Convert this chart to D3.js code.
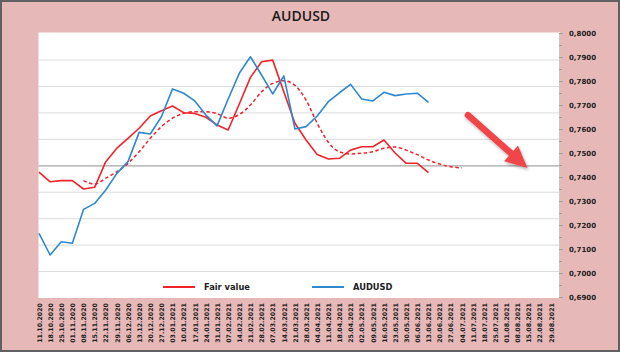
<!DOCTYPE html>
<html>
<head>
<meta charset="utf-8">
<script src="https://cdn.jsdelivr.net/npm/d3@7"></script>
<style>
  html, body { margin: 0; padding: 0; background: #e6b8b7; }
  svg { display: block; }
</style>
</head>
<body>
<div id="chart"></div>
<script>
// weekly categories
const dates = [
  "11.10.2020","18.10.2020","25.10.2020","01.11.2020","08.11.2020","15.11.2020","22.11.2020","29.11.2020",
  "06.12.2020","13.12.2020","20.12.2020","27.12.2020","03.01.2021","10.01.2021","17.01.2021","24.01.2021",
  "31.01.2021","07.02.2021","14.02.2021","21.02.2021","28.02.2021","07.03.2021","14.03.2021","21.03.2021",
  "28.03.2021","04.04.2021","11.04.2021","18.04.2021","25.04.2021","02.05.2021","09.05.2021","16.05.2021",
  "23.05.2021","30.05.2021","06.06.2021","13.06.2021","20.06.2021","27.06.2021","04.07.2021","11.07.2021",
  "18.07.2021","25.07.2021","01.08.2021","08.08.2021","15.08.2021","22.08.2021","29.08.2021"
];

const fairValue = [
  0.7420, 0.7380, 0.7385, 0.7385, 0.7350, 0.7357, 0.7464, 0.7520, 0.7561, 0.7603,
  0.7654, 0.7676, 0.7696, 0.7668, 0.7665, 0.7649, 0.7617, 0.7596, 0.7704, 0.7815,
  0.7880, 0.7887, 0.7755, 0.7624, 0.7554, 0.7494, 0.7475, 0.7478, 0.7512, 0.7526,
  0.7526, 0.7554, 0.7500, 0.7457, 0.7457, 0.7418
];

const audusd = [
  0.7165, 0.7075, 0.7130, 0.7124, 0.7265, 0.7290, 0.7346, 0.7415, 0.7464, 0.7586,
  0.7579, 0.7651, 0.7767, 0.7749, 0.7717, 0.7658, 0.7613, 0.7725, 0.7832, 0.7901,
  0.7825, 0.7746, 0.7821, 0.7600, 0.7610, 0.7654, 0.7714, 0.7751, 0.7786, 0.7725,
  0.7717, 0.7753, 0.7739, 0.7746, 0.7749, 0.7711
];

// smoothed fair value trend (dashed), starts at week 4
const fairTrend = [
  null, null, null, null, 0.7385, 0.7370, 0.7395, 0.7422, 0.7457, 0.7505,
  0.7561, 0.7610, 0.7645, 0.7665, 0.7672, 0.7672, 0.7664, 0.7645, 0.7660, 0.7700,
  0.7755, 0.7790, 0.7801, 0.7782, 0.7720, 0.7624, 0.7545, 0.7505, 0.7496, 0.7499,
  0.7505, 0.7520, 0.7525, 0.7512, 0.7493, 0.7471, 0.7454, 0.7443, 0.7438
];

const yTicks = [0.69, 0.70, 0.71, 0.72, 0.73, 0.74, 0.75, 0.76, 0.77, 0.78, 0.79, 0.80];
const gridSteps = [1, 2, 3, 4, 5, 6, 7, 8, 9];

const W = 620, H = 352;
const plot = { left: 38.5, right: 560, top: 32.5, bottom: 298 };

const svg = d3.select("#chart").append("svg")
  .attr("width", W)
  .attr("height", H);

const defs = svg.append("defs");
const shadow = defs.append("filter").attr("id", "shadow")
  .attr("x", "-20%").attr("y", "-20%").attr("width", "150%").attr("height", "150%");
shadow.append("feDropShadow")
  .attr("dx", 1).attr("dy", 2).attr("stdDeviation", 1.4)
  .attr("flood-color", "#000").attr("flood-opacity", 0.3);

// background + frame
svg.append("rect")
  .attr("x", 1).attr("y", 1).attr("width", W - 2).attr("height", H - 2)
  .attr("fill", "#e6b8b7")
  .attr("stroke", "#606060").attr("stroke-width", 2);

svg.append("text")
  .attr("x", 301).attr("y", 20.5)
  .attr("text-anchor", "middle")
  .style("font-family", "'Open Sans', sans-serif")
  .style("font-weight", 600)
  .style("font-size", "14px")
  .attr("fill", "#1a1a1a")
  .text("AUDUSD");

// plot area
svg.append("rect")
  .attr("x", plot.left).attr("y", plot.top)
  .attr("width", plot.right - plot.left).attr("height", plot.bottom - plot.top)
  .attr("fill", "#fff");

// scales
const x = d3.scaleLinear().domain([0, dates.length]).range([39, 562]);
const y = d3.scaleLinear().domain([0.69, 0.80]).range([297, 33]);
const grid = d3.scaleLinear().domain([0, 10]).range([298, 33.6]);

// gridlines (primary, hidden axis)
svg.append("g")
  .selectAll("line")
  .data(gridSteps)
  .join("line")
  .attr("x1", plot.left).attr("x2", plot.right)
  .attr("y1", d => grid(d)).attr("y2", d => grid(d))
  .attr("stroke", d => d === 5 ? "#a6a6a6" : "#dcdcdc")
  .attr("stroke-width", d => d === 5 ? 1.2 : 1);

// right value axis
const fmt = d => d3.format(".4f")(d).replace(".", ",");
const yAxis = svg.append("g")
  .attr("transform", `translate(559,0)`)
  .call(d3.axisRight(y).tickValues(yTicks).tickFormat(fmt).tickSize(4).tickPadding(6));
yAxis.select(".domain").attr("stroke", "#c8c8c8");
yAxis.selectAll(".tick line").attr("stroke", "#a0a0a0");
yAxis.selectAll("text")
  .style("font-family", "'DejaVu Sans', sans-serif")
  .style("font-weight", "bold")
  .style("font-size", "7px")
  .attr("fill", "#222");

// minor ticks
const minor = d3.range(0.695, 0.80, 0.01);
svg.append("g")
  .attr("transform", `translate(559,0)`)
  .call(d3.axisRight(y).tickValues(minor).tickFormat("").tickSize(3))
  .call(g => g.select(".domain").remove())
  .selectAll(".tick line").attr("stroke", "#a0a0a0");

// category labels
const xAxis = svg.append("g")
  .attr("transform", `translate(0,302)`)
  .call(d3.axisBottom(x).tickValues(d3.range(dates.length)).tickFormat(i => dates[i]).tickSize(0));
xAxis.select(".domain").remove();
xAxis.selectAll("text")
  .attr("transform", "rotate(-90)")
  .attr("text-anchor", "end")
  .attr("x", -1)
  .attr("y", 0)
  .attr("dy", "0.35em")
  .style("font-family", "'DejaVu Sans', sans-serif")
  .style("font-weight", "bold")
  .style("font-size", "6.3px")
  .attr("fill", "#222");

// series
const RED = "#f2232a", BLUE = "#2f88d0";

const line = d3.line()
  .defined(d => d != null)
  .x((d, i) => x(i))
  .y(d => y(d));

svg.append("path")
  .datum(fairTrend)
  .attr("fill", "none")
  .attr("stroke", RED)
  .attr("stroke-width", 1.5)
  .attr("stroke-dasharray", "3.5,2.5")
  .attr("d", line.curve(d3.curveMonotoneX));

line.curve(d3.curveLinear);

svg.append("path")
  .datum(fairValue)
  .attr("fill", "none")
  .attr("stroke", RED)
  .attr("stroke-width", 1.6)
  .attr("stroke-linejoin", "round")
  .attr("d", line);

svg.append("path")
  .datum(audusd)
  .attr("fill", "none")
  .attr("stroke", BLUE)
  .attr("stroke-width", 1.6)
  .attr("stroke-linejoin", "round")
  .attr("d", line);

// legend
const legend = [
  { name: "Fair value", color: RED, x: 163 },
  { name: "AUDUSD", color: BLUE, x: 312 }
];
const lg = svg.append("g").selectAll("g").data(legend).join("g")
  .attr("transform", d => `translate(${d.x},287)`);
lg.append("line")
  .attr("x1", 0).attr("x2", 32)
  .attr("stroke", d => d.color).attr("stroke-width", 2);
lg.append("text")
  .attr("x", 41).attr("y", 3)
  .style("font-family", "'DejaVu Sans', sans-serif")
  .style("font-weight", "bold")
  .style("font-size", "8.3px")
  .attr("fill", "#222")
  .text(d => d.name);

// forecast arrow (annotation)
const tail = [x(38.55), y(0.7658)];
const tip = [x(43.9), y(0.7438)];
const dx = tip[0] - tail[0], dy = tip[1] - tail[1];
const len = Math.hypot(dx, dy);
const ux = dx / len, uy = dy / len;
const headLen = 22, headHalf = 10.5;
const base = [tip[0] - ux * headLen, tip[1] - uy * headLen];

const arrow = svg.append("g").attr("filter", "url(#shadow)");
arrow.append("line")
  .attr("x1", tail[0]).attr("y1", tail[1])
  .attr("x2", base[0] + ux * 3).attr("y2", base[1] + uy * 3)
  .attr("stroke", "#f04548")
  .attr("stroke-width", 6.5)
  .attr("stroke-linecap", "round");
arrow.append("path")
  .attr("d", `M${tip[0]},${tip[1]} L${base[0] - uy * headHalf},${base[1] + ux * headHalf} L${base[0] + uy * headHalf},${base[1] - ux * headHalf} Z`)
  .attr("fill", "#f04548");
</script>
</body>
</html>
